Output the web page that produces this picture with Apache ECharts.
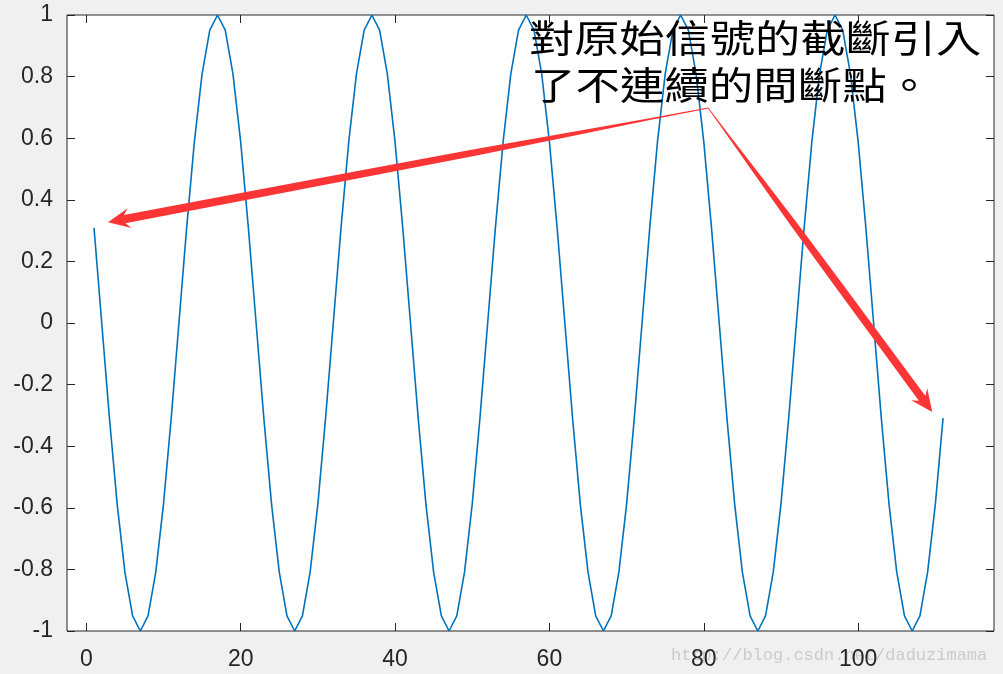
<!DOCTYPE html>
<html>
<head>
<meta charset="utf-8">
<script src="https://cdn.jsdelivr.net/npm/echarts@6/dist/echarts.min.js"></script>
<style>
html,body{margin:0;padding:0;background:#f0f0f0;}
#chart{width:1003px;height:674px;}
</style>
</head>
<body>
<div id="chart"></div>
<script>
// sample index starts at 1
var xStart = 1;
var signal = [
  0.309, 0, -0.309, -0.588, -0.809, -0.951, -1, -0.951, -0.809, -0.588,
  -0.309, 0, 0.309, 0.588, 0.809, 0.951, 1, 0.951, 0.809, 0.588,
  0.309, 0, -0.309, -0.588, -0.809, -0.951, -1, -0.951, -0.809, -0.588,
  -0.309, 0, 0.309, 0.588, 0.809, 0.951, 1, 0.951, 0.809, 0.588,
  0.309, 0, -0.309, -0.588, -0.809, -0.951, -1, -0.951, -0.809, -0.588,
  -0.309, 0, 0.309, 0.588, 0.809, 0.951, 1, 0.951, 0.809, 0.588,
  0.309, 0, -0.309, -0.588, -0.809, -0.951, -1, -0.951, -0.809, -0.588,
  -0.309, 0, 0.309, 0.588, 0.809, 0.951, 1, 0.951, 0.809, 0.588,
  0.309, 0, -0.309, -0.588, -0.809, -0.951, -1, -0.951, -0.809, -0.588,
  -0.309, 0, 0.309, 0.588, 0.809, 0.951, 1, 0.951, 0.809, 0.588,
  0.309, 0, -0.309, -0.588, -0.809, -0.951, -1, -0.951, -0.809, -0.588,
  -0.309
];
var xTicks = [0, 20, 40, 60, 80, 100];
var xRange = [-2.5, 117.6];
var yRange = [-1, 1];
var yStep = 0.2;
// arrows: [fromX, fromY, toX, toY] in data units
var arrows = [
  [80.57, 0.698, 2.81, 0.327],
  [80.57, 0.698, 109.6, -0.289]
];
var noteLines = ['對原始信號的截斷引入', '了不連續的間斷點。'];
var watermark = 'http://blog.csdn.net/daduzimama';

var lineData = signal.map(function (v, i) { return [xStart + i, v]; });

var axisColor = '#262626';
var labelFont = 'Liberation Sans, Arial, Helvetica, sans-serif';

function renderArrow(params, api) {
  var p0 = api.coord([api.value(0), api.value(1)]);
  var p1 = api.coord([api.value(2), api.value(3)]);
  var dx = p1[0] - p0[0], dy = p1[1] - p0[1];
  var len = Math.sqrt(dx * dx + dy * dy);
  var ux = dx / len, uy = dy / len;
  var nx = -uy, ny = ux;
  var headLen = 22, headHalf = 10, neck = 17;
  var L = len - neck;
  var prof = [[0, 0.4], [0.1, 1.0], [0.25, 2.2], [0.4, 3.3], [0.6, 3.7], [1, 4.1]];
  var left = [], right = [];
  prof.forEach(function (p) {
    var bx = p0[0] + ux * p[0] * L, by = p0[1] + uy * p[0] * L;
    left.push([bx + nx * p[1], by + ny * p[1]]);
    right.unshift([bx - nx * p[1], by - ny * p[1]]);
  });
  var hbx = p1[0] - ux * headLen, hby = p1[1] - uy * headLen;
  var pts = left.concat([
    [hbx + nx * headHalf, hby + ny * headHalf],
    [p1[0], p1[1]],
    [hbx - nx * headHalf, hby - ny * headHalf]
  ]).concat(right);
  return {
    type: 'polygon',
    shape: { points: pts },
    style: { fill: '#fb3535' }
  };
}

function axisBase(pos) {
  return {
    type: 'value', position: pos,
    axisLine: { show: false, onZero: false },
    axisTick: { show: true, inside: true, length: 8, lineStyle: { color: axisColor } },
    splitLine: { show: false }
  };
}

var xBottom = axisBase('bottom');
xBottom.min = xRange[0]; xBottom.max = xRange[1];
xBottom.axisTick.customValues = xTicks;
xBottom.axisLabel = { customValues: xTicks, fontSize: 23, color: axisColor, margin: 17, fontFamily: labelFont };
var xTop = axisBase('top');
xTop.min = xRange[0]; xTop.max = xRange[1];
xTop.axisTick.customValues = xTicks;
xTop.axisLabel = { show: false };

var yLeft = axisBase('left');
yLeft.min = yRange[0]; yLeft.max = yRange[1]; yLeft.interval = yStep;
yLeft.axisLabel = { fontSize: 23, color: axisColor, margin: 14, fontFamily: labelFont };
var yRight = axisBase('right');
yRight.min = yRange[0]; yRight.max = yRange[1]; yRight.interval = yStep;
yRight.axisLabel = { show: false };

var chart = echarts.init(document.getElementById('chart'));
chart.setOption({
  animation: false,
  backgroundColor: '#f0f0f0',
  grid: {
    left: 67, right: 9, top: 15, bottom: 43,
    show: true, backgroundColor: '#ffffff',
    borderColor: axisColor, borderWidth: 1
  },
  xAxis: [xBottom, xTop],
  yAxis: [yLeft, yRight],
  series: [{
    type: 'line',
    data: lineData,
    xAxisIndex: 0, yAxisIndex: 0,
    symbol: 'none',
    lineStyle: { color: '#0072BD', width: 1.6 },
    z: 2
  }, {
    type: 'custom',
    xAxisIndex: 0, yAxisIndex: 0,
    data: arrows,
    encode: { x: [0, 2], y: [1, 3] },
    renderItem: renderArrow,
    z: 3
  }],
  graphic: [{
    type: 'text', x: 529, y: 19, scaleX: 1.19, z: 10,
    style: { text: noteLines[0], fontSize: 38, fill: '#000', fontFamily: 'Noto Sans CJK TC', fontWeight: 'normal', verticalAlign: 'top' }
  }, {
    type: 'text', x: 531, y: 66, scaleX: 1.17, z: 10,
    style: { text: noteLines[1], fontSize: 38, fill: '#000', fontFamily: 'Noto Sans CJK TC', fontWeight: 'normal', verticalAlign: 'top' }
  }, {
    type: 'text', left: 671, top: 647, z: -10,
    style: { text: watermark, fontSize: 17, fill: '#cbcbcb', fontFamily: 'Liberation Mono, monospace' }
  }]
});
</script>
</body>
</html>
